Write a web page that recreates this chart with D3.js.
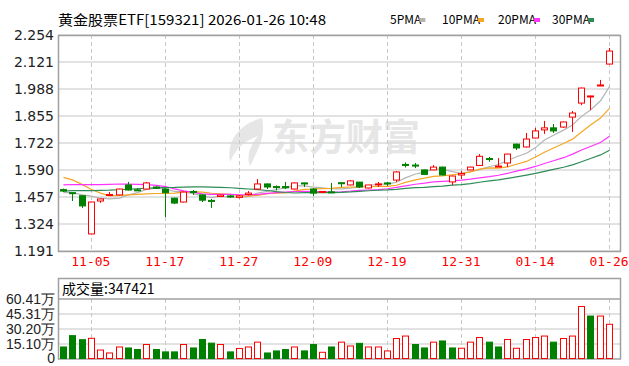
<!DOCTYPE html>
<html><head><meta charset="utf-8">
<script src="https://cdn.jsdelivr.net/npm/d3@7/dist/d3.min.js"></script>
<style>
body{margin:0;background:#fff}
svg{display:block;font-family:"Noto Sans CJK SC",sans-serif}
</style></head><body>
<svg id="chart" width="629" height="366"></svg>
<script>
// trading days shown (MM-DD), 2025-10-31 .. 2026-01-26
const dates = ["10-31","11-03","11-04","11-05","11-06","11-07","11-10","11-11","11-12","11-13",
  "11-14","11-17","11-18","11-19","11-20","11-21","11-24","11-25","11-26","11-27",
  "11-28","12-01","12-02","12-03","12-04","12-05","12-08","12-09","12-10","12-11",
  "12-12","12-15","12-16","12-17","12-18","12-19","12-22","12-23","12-24","12-25",
  "12-26","12-29","12-30","12-31","01-05","01-06","01-07","01-08","01-09","01-12",
  "01-13","01-14","01-15","01-16","01-19","01-20","01-21","01-22","01-23","01-26"];

const open  = [1.493,1.478,1.463,1.275,1.437,1.466,1.467,1.516,1.492,1.496,
  1.506,1.496,1.451,1.432,1.484,1.467,1.440,1.459,1.462,1.455,
  1.469,1.496,1.521,1.508,1.508,1.496,1.526,1.496,1.479,1.482,
  1.527,1.516,1.530,1.501,1.518,1.526,1.540,1.617,1.614,1.590,
  1.590,1.604,1.531,1.565,1.590,1.612,1.646,1.605,1.624,1.717,
  1.703,1.747,1.787,1.797,1.801,1.850,1.919,1.954,2.006,2.111];
const high  = [1.498,1.478,1.465,1.434,1.448,1.481,1.498,1.531,1.500,1.531,
  1.510,1.500,1.453,1.484,1.491,1.469,1.447,1.468,1.467,1.465,
  1.486,1.545,1.523,1.514,1.531,1.528,1.527,1.501,1.486,1.526,
  1.527,1.540,1.531,1.516,1.531,1.531,1.584,1.627,1.624,1.592,
  1.614,1.606,1.562,1.585,1.606,1.668,1.654,1.648,1.670,1.719,
  1.772,1.797,1.831,1.816,1.828,1.880,1.995,1.955,2.033,2.190];
const low   = [1.481,1.437,1.403,1.273,1.428,1.466,1.465,1.489,1.487,1.494,
  1.497,1.358,1.422,1.430,1.467,1.432,1.403,1.457,1.452,1.450,
  1.464,1.494,1.496,1.489,1.496,1.494,1.506,1.462,1.476,1.478,
  1.506,1.514,1.501,1.499,1.506,1.511,1.531,1.602,1.599,1.567,
  1.588,1.563,1.516,1.545,1.588,1.610,1.630,1.605,1.604,1.688,
  1.700,1.745,1.767,1.772,1.797,1.777,1.909,1.885,2.005,2.109];
const close = [1.486,1.476,1.413,1.432,1.447,1.469,1.496,1.491,1.489,1.526,
  1.500,1.478,1.427,1.481,1.479,1.441,1.439,1.466,1.458,1.462,
  1.476,1.521,1.506,1.504,1.502,1.526,1.521,1.476,1.484,1.480,
  1.525,1.536,1.506,1.516,1.521,1.523,1.580,1.614,1.611,1.568,
  1.604,1.565,1.560,1.572,1.604,1.657,1.642,1.609,1.668,1.698,
  1.742,1.782,1.797,1.782,1.826,1.870,1.993,1.954,2.008,2.175];
// volume, shares
const volume = [117000,232000,191000,205000,86000,56000,117000,107000,91000,142000,
  91000,67000,67000,142000,107000,193000,156000,142000,67000,102000,
  117000,166000,56000,77000,91000,117000,77000,142000,63000,117000,
  166000,127000,154000,117000,117000,77000,203000,228000,142000,107000,
  166000,178000,107000,104000,166000,213000,166000,117000,193000,104000,
  193000,213000,228000,166000,203000,228000,528000,431000,431000,347421];
// closes before the window, used only to warm up the moving averages
const priorCloses = [1.40,1.41,1.43,1.42,1.44,1.43,1.41,1.42,1.44,1.45,
  1.43,1.42,1.44,1.45,1.44,1.46,1.50,1.52,1.55,1.574,
  1.60,1.65,1.67,1.626,1.60,1.474,1.47,1.46,1.50];

const priceTicks = [1.191,1.324,1.457,1.590,1.722,1.855,1.988,2.121,2.254];
const volumeTicks = [0,151000,302000,453100,604100];
const dateTicks = ["11-05","11-17","11-27","12-09","12-19","12-31","01-14","01-26"];
const maPeriods = [5,10,20,30];
const maNames = ["5PMA","10PMA","20PMA","30PMA"];

const RED = "#ff0000", GREEN = "#008000";
const maColors = ["#b4b4b4","#f5a623","#ff33ff","#2e8b57"];

const svg = d3.select("#chart");
const main = {left:58, right:620, top:35, bottom:251};
const vol = {left:58, right:620, top:278, head:299, bottom:358.5};

const x = d3.scaleBand().domain(dates).range([58.4, 613.6]);
const cx = d => Math.round(x(d) + x.bandwidth()/2);
const y = d3.scaleLinear().domain([1.191, 2.254]).range([main.bottom, main.top]);
const yv = d3.scaleLinear().domain([0, 604100]).range([vol.bottom, vol.head]);

// title + legend
svg.append("text").attr("x", 58).attr("y", 25)
  .attr("font-size", 14).attr("fill", "#000")
  .attr("textLength", 268).attr("lengthAdjust", "spacingAndGlyphs")
  .text("黄金股票ETF[159321] 2026-01-26 10:48");

const legendX = [390, 442, 498, 552];
const leg = svg.append("g").attr("font-size", 12).attr("fill", "#000");
maNames.forEach((n, i) => {
  leg.append("text").attr("x", legendX[i]).attr("y", 24).text(n);
  const w = n.length * 6.6;
  leg.append("rect").attr("x", legendX[i] + w + 3).attr("y", 18)
    .attr("width", 6).attr("height", 4).attr("fill", maColors[i]);
});

// watermark
const wm = svg.append("g").attr("fill", "#e6e6e6");
wm.append("path").attr("d", "M262,118 C240,124 226,140 230,162 C236,148 246,140 258,136 C250,146 246,156 250,166 C258,150 266,136 262,118 Z");
wm.append("text").attr("x", 272).attr("y", 151).attr("font-size", 37)
  .attr("font-weight", "bold").text("东方财富");

// main grid
const gMain = svg.append("g");
gMain.selectAll("line.h").data(priceTicks).join("line")
  .attr("x1", main.left).attr("x2", main.right)
  .attr("y1", d => Math.round(y(d))).attr("y2", d => Math.round(y(d)))
  .attr("stroke", "#d9d9d9").attr("stroke-width", 1.5);
gMain.selectAll("line.v").data(dateTicks).join("line")
  .attr("x1", d => cx(d) + 0.5).attr("x2", d => cx(d) + 0.5)
  .attr("y1", main.top).attr("y2", main.bottom)
  .attr("stroke", "#c8c8c8").attr("stroke-dasharray", "4,3");
gMain.append("rect").attr("x", main.left + 0.5).attr("y", main.top + 0.5)
  .attr("width", main.right - main.left).attr("height", main.bottom - main.top)
  .attr("fill", "none").attr("stroke", "#a0a0a0").attr("stroke-width", 1.5);

// y axis labels
const yAxis = d3.axisLeft(y).tickValues(priceTicks).tickFormat(d3.format(".3f")).tickSize(0).tickPadding(4);
svg.append("g").attr("transform", `translate(${main.left},0)`).call(yAxis)
  .call(g => g.select(".domain").remove())
  .call(g => g.selectAll("text").attr("font-size", 14).attr("fill", "#222")
    .attr("font-family", "DejaVu Sans"));

// x axis labels
const xAxis = d3.axisBottom(x).tickValues(dateTicks).tickSize(0).tickPadding(6);
svg.append("g").attr("transform", `translate(0,${main.bottom})`).call(xAxis)
  .call(g => g.select(".domain").remove())
  .call(g => g.selectAll("text").attr("font-size", 13).attr("fill", RED)
    .attr("font-family", "DejaVu Sans Mono"));

// moving averages
const allCloses = priorCloses.concat(close);
const P = priorCloses.length;
maPeriods.forEach((n, k) => {
  const ma = close.map((c, i) => d3.mean(allCloses.slice(i + P - n + 1, i + P + 1)));
  svg.append("path").datum(ma)
    .attr("fill", "none").attr("stroke", maColors[k]).attr("stroke-width", 1.2)
    .attr("d", d3.line().x((d, i) => cx(dates[i]) + 0.5).y(d => y(d)));
});

// candles
const bw = 6;
const candles = svg.append("g");
dates.forEach((d, i) => {
  const up = close[i] >= open[i];
  const col = up ? RED : GREEN;
  const xc = cx(d) + 0.5;
  candles.append("line").attr("x1", xc).attr("x2", xc)
    .attr("y1", y(high[i])).attr("y2", y(low[i])).attr("stroke", col);
  const top = y(Math.max(open[i], close[i])), bot = y(Math.min(open[i], close[i]));
  candles.append("rect").attr("x", xc - bw/2).attr("y", top)
    .attr("width", bw).attr("height", Math.max(1, bot - top))
    .attr("fill", up ? "#fff" : GREEN).attr("stroke", col);
});

// volume panel
const gVol = svg.append("g");
gVol.selectAll("line.h").data(volumeTicks.slice(1, 4)).join("line")
  .attr("x1", vol.left).attr("x2", vol.right)
  .attr("y1", d => Math.round(yv(d))).attr("y2", d => Math.round(yv(d)))
  .attr("stroke", "#d9d9d9").attr("stroke-width", 1.5);
gVol.selectAll("line.v").data(dateTicks).join("line")
  .attr("x1", d => cx(d) + 0.5).attr("x2", d => cx(d) + 0.5)
  .attr("y1", vol.head).attr("y2", vol.bottom)
  .attr("stroke", "#c8c8c8").attr("stroke-dasharray", "4,3");
gVol.append("rect").attr("x", vol.left + 0.5).attr("y", vol.top + 0.5)
  .attr("width", vol.right - vol.left).attr("height", vol.bottom - vol.top)
  .attr("fill", "none").attr("stroke", "#a0a0a0").attr("stroke-width", 1.5);
gVol.append("line").attr("x1", vol.left).attr("x2", vol.right)
  .attr("y1", vol.head).attr("y2", vol.head).attr("stroke", "#a0a0a0").attr("stroke-width", 1.5);
gVol.append("text").attr("x", 62).attr("y", 294).attr("font-size", 14).attr("fill", "#000")
  .text("成交量:" + volume[volume.length - 1]);

const yvAxis = d3.axisLeft(yv).tickValues(volumeTicks)
  .tickFormat(d => d === 0 ? "0" : (d / 10000).toFixed(2) + "万").tickSize(0).tickPadding(3);
svg.append("g").attr("transform", `translate(${vol.left},0)`).call(yvAxis)
  .call(g => g.select(".domain").remove())
  .call(g => g.selectAll("text").attr("font-size", 14).attr("fill", "#222"));

const bars = svg.append("g");
dates.forEach((d, i) => {
  const prev = i === 0 ? priorCloses[P - 1] : close[i - 1];
  const up = close[i] >= prev;
  const xc = cx(d) + 0.5;
  bars.append("rect").attr("x", xc - bw/2).attr("y", yv(volume[i]))
    .attr("width", bw).attr("height", yv(0) - yv(volume[i]))
    .attr("fill", up ? "#fff" : GREEN).attr("stroke", up ? RED : GREEN);
});
</script>
</body></html>
